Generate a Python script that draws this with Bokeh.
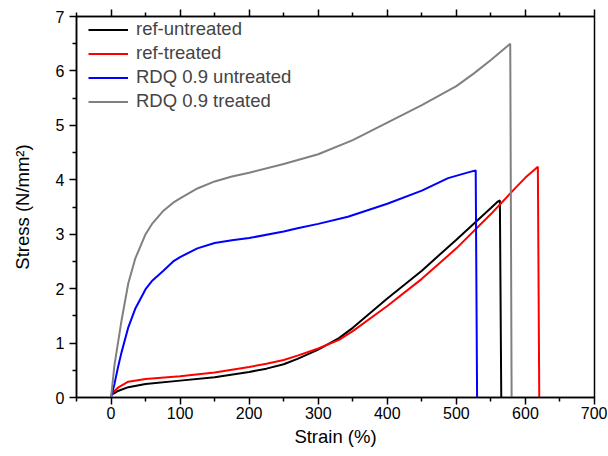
from bokeh.plotting import figure
from bokeh.models import LinearAxis, FixedTicker, Legend, LegendItem, Range1d
from bokeh.embed import file_html
from bokeh.resources import INLINE

# Data
ref_untreated_x = [0, 5, 10, 25, 50, 100, 150, 200, 225, 250, 270, 300, 330, 350, 400, 450, 500, 550, 560, 563, 565]
ref_untreated_y = [0.05, 0.08, 0.12, 0.19, 0.25, 0.31, 0.37, 0.47, 0.53, 0.61, 0.71, 0.88, 1.09, 1.28, 1.82, 2.33, 2.90, 3.48, 3.60, 3.62, 0]

ref_treated_x = [0, 5, 10, 25, 50, 100, 150, 200, 225, 250, 270, 300, 330, 350, 400, 450, 500, 550, 587, 600, 618, 620]
ref_treated_y = [0.05, 0.12, 0.18, 0.29, 0.34, 0.39, 0.46, 0.56, 0.62, 0.69, 0.77, 0.90, 1.06, 1.22, 1.68, 2.18, 2.74, 3.37, 3.87, 4.04, 4.24, 0]

rdq_untreated_x = [0, 5, 10, 15, 25, 35, 50, 60, 75, 90, 100, 125, 150, 175, 200, 250, 270, 300, 343, 400, 450, 488, 521, 528, 530]
rdq_untreated_y = [0, 0.25, 0.55, 0.82, 1.29, 1.63, 1.99, 2.15, 2.32, 2.50, 2.58, 2.74, 2.84, 2.89, 2.93, 3.05, 3.11, 3.19, 3.32, 3.56, 3.80, 4.03, 4.15, 4.17, 0]

rdq_treated_x = [0, 5, 10, 15, 25, 35, 50, 60, 75, 90, 100, 125, 150, 175, 200, 250, 300, 350, 400, 450, 500, 525, 550, 578, 580]
rdq_treated_y = [0, 0.6, 1.0, 1.4, 2.1, 2.55, 3.0, 3.2, 3.42, 3.58, 3.66, 3.84, 3.97, 4.06, 4.13, 4.29, 4.47, 4.73, 5.05, 5.37, 5.72, 5.95, 6.2, 6.50, 0]

labels = ["ref-untreated", "ref-treated", "RDQ 0.9 untreated", "RDQ 0.9 treated"]
colors = ["black", "#ff0000", "#0000ff", "#808080"]

x_major = [0, 100, 200, 300, 400, 500, 600, 700]
x_minor = [-50, 50, 150, 250, 350, 450, 550, 650]
y_major = [0, 1, 2, 3, 4, 5, 6, 7]
y_minor = [0.5, 1.5, 2.5, 3.5, 4.5, 5.5, 6.5]

p = figure(frame_width=518, frame_height=381, output_backend="svg", toolbar_location=None,
           x_range=Range1d(-50, 700), y_range=Range1d(0, 7),
           x_axis_location=None, y_axis_location=None,
           min_border_left=76, min_border_right=13, min_border_top=16, min_border_bottom=58)
p.title = None
p.xgrid.visible = False
p.ygrid.visible = False
p.outline_line_color = "black"
p.outline_line_width = 1.5
p.outline_line_alpha = 1
p.background_fill_color = "white"
p.border_fill_color = "white"

font = "Liberation Sans"

def style(ax):
    ax.axis_line_color = "black"
    ax.major_tick_line_color = "black"
    ax.minor_tick_line_color = "black"
    ax.axis_line_width = 1.5
    ax.major_tick_line_width = 1.5
    ax.minor_tick_line_width = 1.5
    ax.major_tick_in = 0
    ax.major_tick_out = 7
    ax.minor_tick_in = 0
    ax.minor_tick_out = 4
    ax.major_label_text_font = font
    ax.major_label_text_font_size = "16px"
    ax.major_label_text_color = "black"
    ax.axis_label_text_font = font
    ax.axis_label_text_font_size = "18.5px"
    ax.axis_label_text_font_style = "normal"
    ax.axis_label_text_color = "black"

xb = LinearAxis(ticker=FixedTicker(ticks=x_major, minor_ticks=x_minor), axis_label="Strain (%)")
style(xb)
xb.major_label_standoff = 2
xb.axis_label_standoff = 4
p.add_layout(xb, "below")

xt = LinearAxis(ticker=FixedTicker(ticks=x_major, minor_ticks=x_minor))
style(xt)
xt.major_label_overrides = {t: "" for t in x_major}
xt.major_label_standoff = 0
p.add_layout(xt, "above")

yl = LinearAxis(ticker=FixedTicker(ticks=y_major, minor_ticks=y_minor), axis_label="Stress (N/mm²)")
style(yl)
yl.major_label_standoff = 5
yl.axis_label_standoff = 20
p.add_layout(yl, "left")

series = [(ref_untreated_x, ref_untreated_y), (ref_treated_x, ref_treated_y),
          (rdq_untreated_x, rdq_untreated_y), (rdq_treated_x, rdq_treated_y)]
renderers = []
for (xs, ys), c in zip(series, colors):
    renderers.append(p.line(xs, ys, line_color=c, line_width=2))

items = [LegendItem(label=l, renderers=[r]) for l, r in zip(labels, renderers)]
legend = Legend(items=items, location=(12, 285))
legend.background_fill_alpha = 0
legend.border_line_alpha = 0
legend.label_text_font = font
legend.label_text_font_size = "18.5px"
legend.glyph_width = 40
legend.glyph_height = 21
legend.label_height = 21
legend.spacing = 2
legend.padding = 0
legend.margin = 0
legend.label_standoff = 8
p.add_layout(legend)

open("out.html", "w").write(file_html(p, INLINE))
